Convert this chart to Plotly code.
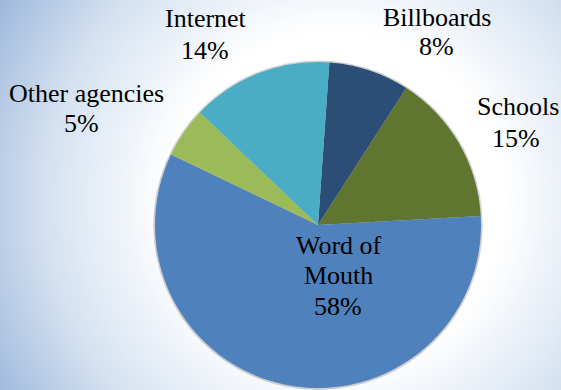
import numpy as np
import plotly.graph_objects as go

# ---- data ----
labels = ["Billboards", "Schools", "Word of Mouth", "Other agencies", "Internet"]
values = [8, 15, 58, 5, 14]
colors = ["#2C4D75", "#5F7530", "#4F81BD", "#9BBB59", "#4BACC6"]
# label text lines (name split as in the picture)
label_lines = [["Billboards"], ["Schools"], ["Word of", "Mouth"], ["Other agencies"], ["Internet"]]

# ---- layout (pixel positions of each text line: center x, baseline y) ----
W, H = 561, 390
text_pos = [
    [(437, 26), (436, 55)],
    [(518, 115), (516, 147)],
    [(339, 254), (338, 284), (337.5, 315)],
    [(86.5, 102), (81.5, 132)],
    [(206, 27), (205, 59)],
]
FS = 26
FONT = "Liberation Serif"
cx, cy, r = 318, 225, 163

dom_x = [(cx - r) / W, (cx + r) / W]
dom_y = [1 - (cy + r) / H, 1 - (cy - r) / H]
sh = 2.5  # shadow spread in px
sdom_x = [(cx - r - sh) / W, (cx + r + sh) / W]
sdom_y = [max(0.0, 1 - (cy + 1 + r + sh) / H), min(1.0, 1 - (cy + 1 - r - sh) / H)]

# background radial gradient (styling only)
gx = np.linspace(0, W, 71)
gy = np.linspace(0, H, 50)
GX, GY = np.meshgrid(gx, gy)
grad = np.sqrt((GX - 335) ** 2 + (GY - 200) ** 2) / 400

fig = go.Figure()
fig.add_trace(go.Heatmap(
    x=gx, y=gy, z=grad, zmin=0, zmax=1, zsmooth="best", showscale=False, hoverinfo="skip",
    colorscale=[[0, "#ffffff"], [0.42, "#ffffff"], [0.72, "#d6e2f1"], [1, "#98b5da"]],
))
fig.add_trace(go.Pie(
    values=[1], marker=dict(colors=["rgba(0,0,0,0.18)"], line=dict(width=0)),
    textinfo="none", hoverinfo="skip", showlegend=False, domain=dict(x=sdom_x, y=sdom_y),
))
fig.add_trace(go.Pie(
    labels=labels, values=values, sort=False, direction="clockwise", rotation=4,
    marker=dict(colors=colors, line=dict(width=0)),
    textinfo="none", hoverinfo="label+percent", showlegend=False,
    domain=dict(x=dom_x, y=dom_y),
))

annotations = []
for lines, v, pos in zip(label_lines, values, text_pos):
    texts = lines + [f"{v}%"]
    for t, (px, py) in zip(texts, pos):
        annotations.append(dict(
            text=t, x=px / W, y=1 - (py - 0.34 * FS) / H, xref="paper", yref="paper",
            xanchor="center", yanchor="middle", showarrow=False,
            font=dict(family=FONT, size=FS, color="#000000"),
        ))

fig.update_layout(
    width=W, height=H, margin=dict(l=0, r=0, t=0, b=0),
    paper_bgcolor="#ffffff", plot_bgcolor="rgba(0,0,0,0)",
    xaxis=dict(visible=False, range=[0, W], domain=[0, 1], fixedrange=True),
    yaxis=dict(visible=False, range=[H, 0], domain=[0, 1], fixedrange=True),
    annotations=annotations,
)

fig.write_html("out.html")
